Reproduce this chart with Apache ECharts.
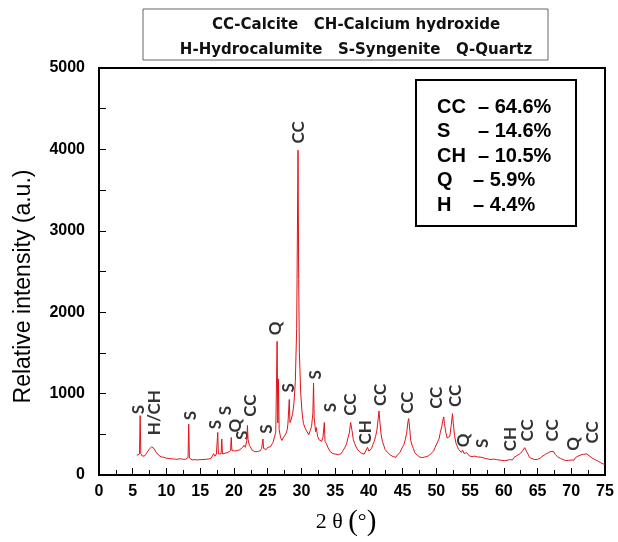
<!DOCTYPE html>
<html>
<head>
<meta charset="utf-8">
<script src="https://cdn.jsdelivr.net/npm/echarts@6/dist/echarts.min.js"></script>
<style>
    html, body { margin: 0; padding: 0; background: #fff; }
    #echartXrd { width: 618px; height: 542px; }
</style>
</head>
<body>
<div id="echartXrd"></div>
<script>
// XRD pattern
const twoTheta = [
    5.6, 5.8, 6.0, 6.1, 6.2, 6.4, 6.6, 6.8, 7.0, 7.2, 7.4, 7.6, 7.8, 8.0, 8.2, 8.4, 8.6, 8.8, 9.0, 9.2,
    9.4, 9.6, 9.8, 10.0, 10.2, 10.4, 10.6, 10.8, 11.0, 11.2, 11.4, 11.6, 11.8, 12.0, 12.2, 12.4, 12.6, 12.8, 13.0, 13.2,
    13.3, 13.4, 13.6, 13.8, 14.0, 14.2, 14.4, 14.6, 14.8, 15.0, 15.2, 15.4, 15.6, 15.8, 16.0, 16.2, 16.4, 16.6, 16.8, 17.0,
    17.2, 17.4, 17.6, 17.7, 17.9, 18.1, 18.2, 18.3, 18.5, 18.7, 18.9, 19.1, 19.3, 19.5, 19.6, 19.7, 19.9, 20.1, 20.3, 20.5,
    20.7, 20.9, 21.1, 21.3, 21.5, 21.7, 21.9, 22.0, 22.1, 22.3, 22.5, 22.7, 22.9, 23.1, 23.3, 23.5, 23.7, 23.9, 24.1, 24.3,
    24.4, 24.6, 24.8, 25.0, 25.2, 25.4, 25.6, 25.8, 26.0, 26.2, 26.4, 26.5, 26.6, 26.7, 26.9, 27.1, 27.3, 27.5, 27.7, 27.9,
    28.0, 28.2, 28.3, 28.5, 28.7, 28.9, 29.1, 29.3, 29.5, 29.6, 29.7, 29.9, 30.1, 30.3, 30.5, 30.7, 30.9, 31.1, 31.3, 31.5,
    31.7, 31.8, 31.9, 32.1, 32.2, 32.4, 32.6, 32.8, 33.0, 33.2, 33.4, 33.5, 33.7, 33.9, 34.1, 34.3, 34.5, 34.7, 34.9, 35.1,
    35.3, 35.5, 35.7, 35.9, 36.1, 36.3, 36.5, 36.7, 36.9, 37.1, 37.3, 37.5, 37.7, 37.9, 38.1, 38.3, 38.5, 38.7, 38.9, 39.1,
    39.3, 39.5, 39.8, 40.0, 40.2, 40.4, 40.6, 40.8, 41.0, 41.2, 41.4, 41.5, 41.6, 41.8, 42.0, 42.2, 42.4, 42.6, 42.8, 43.0,
    43.2, 43.4, 43.6, 43.8, 44.0, 44.2, 44.4, 44.6, 44.8, 45.0, 45.2, 45.4, 45.6, 45.8, 45.9, 46.0, 46.2, 46.4, 46.6, 46.8,
    47.0, 47.2, 47.4, 47.6, 47.8, 48.0, 48.2, 48.4, 48.6, 48.8, 49.0, 49.2, 49.4, 49.6, 49.8, 50.0, 50.2, 50.4, 50.6, 50.8,
    51.0, 51.1, 51.2, 51.4, 51.6, 51.8, 52.0, 52.2, 52.4, 52.5, 52.7, 52.9, 53.1, 53.3, 53.5, 53.7, 53.9, 54.1, 54.3, 54.5,
    54.7, 54.9, 55.1, 55.3, 55.5, 55.7, 55.9, 56.1, 56.3, 56.5, 56.7, 56.9, 57.1, 57.3, 57.5, 57.7, 57.9, 58.1, 58.3, 58.5,
    58.7, 58.9, 59.1, 59.3, 59.5, 59.7, 59.9, 60.1, 60.3, 60.5, 60.7, 60.9, 61.1, 61.3, 61.5, 61.7, 61.9, 62.1, 62.3, 62.5,
    62.7, 62.9, 63.1, 63.2, 63.4, 63.6, 63.8, 64.0, 64.2, 64.4, 64.6, 64.8, 65.0, 65.2, 65.4, 65.6, 65.8, 66.0, 66.2, 66.4,
    66.6, 66.8, 67.0, 67.2, 67.4, 67.6, 67.8, 68.0, 68.2, 68.4, 68.6, 68.8, 69.0, 69.2, 69.4, 69.6, 69.8, 70.0, 70.2, 70.4,
    70.6, 70.8, 71.0, 71.2, 71.4, 71.6, 71.8, 72.0, 72.3, 72.5, 72.7, 72.9, 73.1, 73.3, 73.5, 73.7, 73.9, 74.1, 74.3, 74.5,
    74.7, 74.9, 75.0
];
const intensity = [
    243, 228, 258, 730, 262, 232, 252, 236, 262, 276, 312, 322, 348, 326, 322, 286, 276, 246, 242, 222,
    230, 218, 222, 206, 220, 204, 218, 198, 214, 196, 210, 192, 212, 200, 214, 194, 210, 192, 208, 214,
    624, 208, 204, 186, 210, 188, 206, 186, 204, 188, 208, 190, 206, 192, 212, 196, 216, 202, 232, 262,
    232, 258, 523, 258, 242, 262, 442, 258, 244, 268, 250, 276, 278, 302, 462, 300, 276, 296, 280, 300,
    294, 312, 312, 340, 365, 340, 420, 608, 430, 364, 344, 306, 306, 286, 294, 288, 298, 298, 328, 442,
    326, 328, 312, 340, 336, 346, 366, 402, 424, 526, 1642, 640, 1180, 560, 466, 424, 456, 464, 506, 556,
    626, 928, 644, 686, 754, 886, 1150, 1800, 3990, 2400, 1500, 1000, 766, 634, 586, 552, 528, 494, 546, 594,
    760, 1131, 700, 534, 584, 476, 434, 416, 414, 466, 645, 414, 386, 344, 326, 284, 290, 262, 282, 256,
    274, 250, 268, 264, 290, 294, 346, 384, 456, 514, 645, 546, 434, 386, 344, 326, 294, 288, 270, 274,
    256, 276, 340, 294, 312, 324, 376, 414, 476, 554, 706, 787, 684, 506, 414, 366, 314, 306, 274, 268,
    244, 246, 226, 228, 218, 244, 244, 276, 294, 346, 374, 436, 514, 656, 693, 614, 426, 364, 326, 274,
    266, 242, 238, 218, 224, 214, 222, 224, 236, 234, 256, 262, 286, 294, 336, 354, 406, 444, 526, 594,
    686, 714, 634, 526, 454, 446, 474, 606, 754, 644, 486, 394, 356, 314, 306, 278, 306, 264, 266, 274,
    256, 234, 238, 226, 236, 232, 228, 222, 226, 220, 222, 214, 218, 202, 212, 196, 206, 190, 204, 196,
    196, 190, 192, 184, 188, 180, 184, 176, 190, 182, 192, 188, 206, 186, 216, 212, 236, 234, 256, 256,
    286, 294, 336, 340, 284, 256, 218, 222, 200, 208, 190, 206, 192, 212, 208, 232, 234, 258, 256, 276,
    274, 294, 290, 300, 286, 254, 246, 222, 226, 204, 208, 188, 196, 178, 188, 180, 186, 184, 202, 182,
    212, 208, 232, 226, 246, 230, 254, 248, 259, 256, 234, 228, 208, 212, 190, 198, 174, 176, 154, 156,
    136, 142, 134
];

// Phase labels above the peaks
const peakNames = ['S', 'H/CH', 'S', 'S', 'S', 'Q', 'S', 'CC', 'S', 'Q', 'S', 'CC', 'S', 'S',
    'CC', 'CH', 'CC', 'CC', 'CC', 'CC', 'Q', 'S', 'CH', 'CC', 'CC', 'Q', 'CC'];
const peakLabelX = [5.8, 8.3, 13.5, 17.2, 18.7, 20.2, 21.2, 22.5, 24.9, 26.2, 28.1, 29.6, 32.1, 34.3,
    37.3, 39.5, 41.7, 45.7, 50.1, 52.8, 54.1, 56.8, 61.0, 63.5, 67.2, 70.4, 73.2];
const peakLabelY = [803, 766, 730, 620, 791, 608, 487, 852, 563, 1800, 1070, 4209, 1229, 827,
    864, 523, 985, 888, 949, 973, 426, 389, 442, 547, 547, 381, 523];

// Phase contents (inset box)
const phaseCodes = ['CC', 'S', 'CH', 'Q', 'H'];
const phaseShares = ['64.6%', '14.6%', '10.5%', '5.9%', '4.4%'];

const legendLines = ['CC-Calcite   CH-Calcium hydroxide', 'H-Hydrocalumite   S-Syngenite   Q-Quartz'];

const xTicks = { min: 0, max: 75, interval: 5 };
const yTicks = { min: 0, max: 5000, interval: 1000 };

let echartElemXrd = document.getElementById('echartXrd');
if (echartElemXrd) {
    let echartXrd = echarts.init(echartElemXrd);

    let curve = twoTheta.map((t, i) => [t, intensity[i]]);
    let marks = peakNames.map((n, i) => ({ name: n, value: [peakLabelX[i], peakLabelY[i]] }));

    let graphics = [{
        type: 'rect',
        shape: { x: 143, y: 9, width: 405, height: 51 },
        style: { fill: '#fff', stroke: '#666', lineWidth: 1 }
    }];
    legendLines.forEach((txt, i) => {
        graphics.push({
            type: 'text',
            x: 356,
            y: 25 + i * 25,
            style: {
                text: txt,
                font: 'bold 15px "DejaVu Sans", sans-serif',
                fill: '#111',
                textAlign: 'center',
                textVerticalAlign: 'middle'
            }
        });
    });
    graphics.push({
        type: 'rect',
        z: 10,
        shape: { x: 416, y: 80, width: 160, height: 146 },
        style: { fill: '#fff', stroke: '#000', lineWidth: 2 }
    });
    phaseCodes.forEach((code, i) => {
        let rowY = 107 + i * 24.5;
        graphics.push({
            type: 'text', z: 11, x: 437, y: rowY,
            style: {
                text: code,
                font: 'bold 20px "Liberation Sans", Arial, sans-serif',
                fill: '#000',
                textVerticalAlign: 'middle'
            }
        });
        graphics.push({
            type: 'text', z: 11, x: i < 3 ? 478 : 473, y: rowY,
            style: {
                text: '\u2013 ' + phaseShares[i],
                font: 'bold 20px "Liberation Sans", Arial, sans-serif',
                fill: '#000',
                textVerticalAlign: 'middle'
            }
        });
    });

    echartXrd.setOption({
        animation: false,
        backgroundColor: '#fff',
        grid: {
            left: 99,
            right: 13,
            top: 68,
            bottom: 62,
            show: true,
            borderColor: '#000',
            borderWidth: 2
        },
        xAxis: {
            type: 'value',
            min: xTicks.min,
            max: xTicks.max,
            interval: xTicks.interval,
            name: '2 \u03b8 {p|(}{d|\u00b0}{p|)}',
            nameLocation: 'middle',
            nameGap: 33,
            nameTextStyle: {
                fontFamily: '"Liberation Serif", serif',
                fontSize: 22,
                color: '#000',
                padding: [0, 12, 0, 0],
                rich: {
                    p: { fontFamily: '"Liberation Serif", serif', fontSize: 29, color: '#000' },
                    d: { fontFamily: '"Liberation Serif", serif', fontSize: 22, color: '#000' }
                }
            },
            axisLine: { show: true, lineStyle: { color: '#000', width: 2 } },
            axisTick: { show: true, inside: true, length: 7, lineStyle: { color: '#000', width: 1 } },
            minorTick: { show: true, splitNumber: 2, length: 5, lineStyle: { color: '#000', width: 1 } },
            splitLine: { show: false },
            axisLabel: {
                margin: 9,
                color: '#000',
                fontFamily: '"Liberation Sans", Arial, sans-serif',
                fontWeight: 'bold',
                fontSize: 16
            }
        },
        yAxis: {
            type: 'value',
            min: yTicks.min,
            max: yTicks.max,
            interval: yTicks.interval,
            name: 'Relative intensity (a.u.)',
            nameLocation: 'middle',
            nameGap: 64,
            nameTextStyle: {
                fontFamily: '"Liberation Sans", Arial, sans-serif',
                fontSize: 23,
                color: '#000',
                padding: [0, 0, 0, -30]
            },
            axisLine: { show: true, lineStyle: { color: '#000', width: 2 } },
            axisTick: { show: true, inside: true, length: 7, lineStyle: { color: '#000', width: 1 } },
            minorTick: { show: true, splitNumber: 2, length: 7, lineStyle: { color: '#000', width: 1 } },
            splitLine: { show: false },
            axisLabel: {
                margin: 14,
                color: '#000',
                fontFamily: '"Liberation Sans", Arial, sans-serif',
                fontWeight: 'bold',
                fontSize: 16,
                formatter: function(v) { return String(v); }
            }
        },
        series: [{
            name: 'XRD',
            type: 'line',
            data: curve,
            showSymbol: false,
            sampling: 'none',
            color: '#e0141a',
            lineStyle: { color: '#e0141a', width: 1 }
        }, {
            name: 'Phases',
            type: 'scatter',
            data: marks,
            symbolSize: 1,
            itemStyle: { color: 'rgba(0,0,0,0)' },
            label: {
                show: true,
                position: 'inside',
                rotate: 90,
                formatter: '{b}',
                color: '#000',
                fontFamily: 'Lato, "Open Sans", sans-serif',
                fontWeight: 'bold',
                fontSize: 17
            }
        }],
        graphic: graphics
    });
    window.addEventListener('resize', function() {
        setTimeout(() => {
            echartXrd.resize();
        }, 500);
    });
}
</script>
</body>
</html>
